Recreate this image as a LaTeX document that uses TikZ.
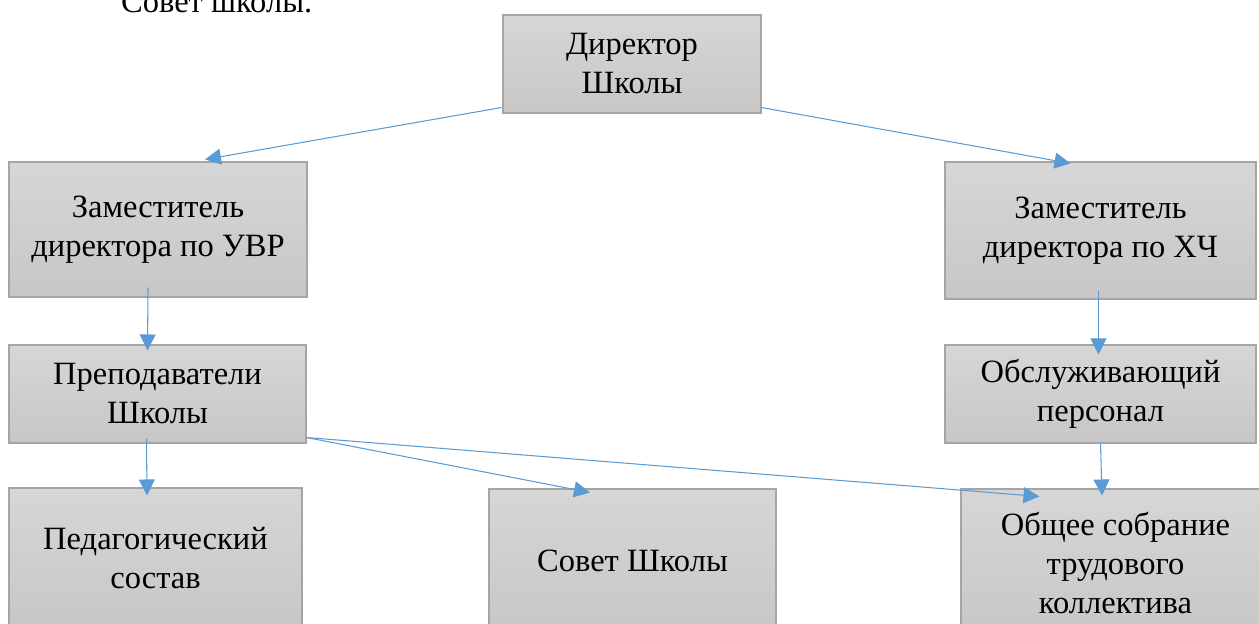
\documentclass[tikz,border=0pt]{standalone}
\usepackage{fontspec}
\setmainfont{Liberation Serif}
\usepackage{tikz}
\usetikzlibrary{arrows.meta, calc}
\definecolor{arrblue}{HTML}{5B9BD5}
\definecolor{boxedge}{HTML}{A5A5A5}

\begin{document}
\begin{tikzpicture}[x=0.02cm, y=-0.02cm,
  box/.style={draw=boxedge, line width=0.6pt, top color=gray!32, bottom color=gray!44,
    align=center, inner sep=0pt, font=\fontsize{18.5}{22.2}\selectfont},
  arr/.style={-{Triangle[length=0.32cm, width=0.32cm]}, color=arrblue, line width=0.6pt}]
\useasboundingbox (0,0) rectangle (1259,624);
\node[anchor=base west, font=\fontsize{18.5}{22.2}\selectfont] (title) at (115,13) {Совет школы.};
 \node[box, minimum width=258*0.02cm, minimum height=98*0.02cm] (dir) at (632,64) {Директор\\Школы};
 \node[box, minimum width=298*0.02cm, minimum height=135*0.02cm] (uvr) at (158,229.5) {Заместитель\\директора по УВР};
 \node[box, minimum width=311*0.02cm, minimum height=137*0.02cm] (hch) at (1100.5,230.5) {Заместитель\\директора по ХЧ};
 \node[box, minimum width=297*0.02cm, minimum height=98*0.02cm] (prep) at (157.5,394) {Преподаватели\\Школы};
 \node[box, minimum width=311*0.02cm, minimum height=98*0.02cm] (obsl) at (1100.5,394) {Обслуживающий\\персонал};
 \node[box, minimum width=293*0.02cm, minimum height=140*0.02cm] (ped) at (155.5,558) {Педагогический\\состав};
 \node[box, minimum width=287*0.02cm, minimum height=144*0.02cm] (sovet) at (632.5,561) {Совет Школы};
 \node[box, minimum width=309*0.02cm, minimum height=148*0.02cm] (obsh) at (1115.5,563) {Общее собрание\\трудового\\коллектива};
 \draw[arr] ($(dir.south west)+(-1,-6)$) -- ($(uvr.north)+(47,-2)$);
 \draw[arr] ($(dir.south east)+(0,-6)$) -- ($(hch.north)+(-30,2)$);
 \draw[arr] ($(uvr.south)+(-10,-10)$) -- ($(prep.north)+(-10,6)$);
 \draw[arr] ($(hch.south)+(-2,-9)$) -- ($(obsl.north)+(-2,10)$);
 \draw[arr] ($(prep.south)+(-11,-5)$) -- ($(ped.north)+(-8.5,8)$);
 \draw[arr] ($(obsl.south)+(0,0)$) -- ($(obsh.north)+(-13.5,7)$);
 \draw[arr] ($(prep.south east)+(0,-6)$) -- ($(sovet.north)+(-42.5,4)$);
 \draw[arr] ($(prep.south east)+(0,-6)$) -- ($(obsh.north west)+(79,8)$);
\end{tikzpicture}
\end{document}
